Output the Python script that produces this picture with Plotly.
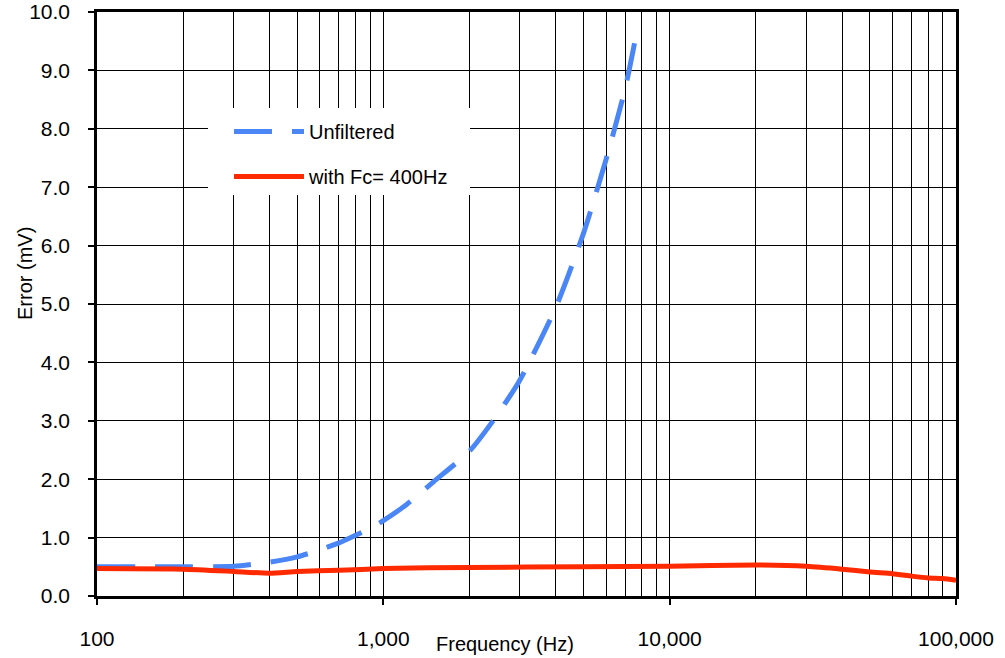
import plotly.graph_objects as go

# ---- data ----
freq_unf = [100, 200, 300, 400, 500, 600, 700, 800, 900, 1000, 1200, 1500,
            2000, 2500, 3000, 4000, 5000, 6000, 7000, 7730]
err_unf = [0.50, 0.50, 0.51, 0.58, 0.67, 0.79, 0.91, 1.04, 1.16, 1.29, 1.56, 1.96,
           2.48, 3.10, 3.70, 4.94, 6.21, 7.48, 8.70, 9.74]

freq_flt = [100, 200, 300, 400, 500, 700, 1000, 2000, 5000, 10000, 20000, 30000,
            40000, 50000, 60000, 70000, 80000, 90000, 100000]
err_flt = [0.47, 0.46, 0.42, 0.39, 0.42, 0.44, 0.47, 0.49, 0.50, 0.51, 0.53, 0.51,
           0.46, 0.41, 0.38, 0.34, 0.31, 0.30, 0.27]

x_tick_vals = [100, 1000, 10000, 100000]
x_tick_text = ["100", "1,000", "10,000", "100,000"]
x_minor_vals = [m * d for d in (100, 1000, 10000) for m in range(2, 10)]
y_tick_vals = list(range(0, 11))
y_tick_text = [f"{v:.1f}" for v in y_tick_vals]

FONT = "Liberation Sans, Arial, sans-serif"

fig = go.Figure()
fig.add_trace(go.Scatter(
    x=freq_unf, y=err_unf, mode="lines", name="Unfiltered",
    line=dict(color="#4a86f5", width=5, dash="38px,20px", shape="spline", smoothing=0.6),
    legendgroup="a",
))
fig.add_trace(go.Scatter(
    x=freq_flt, y=err_flt, mode="lines", name="with Fc= 400Hz",
    line=dict(color="#ff2a00", width=5, shape="spline", smoothing=0.5),
    legendgroup="b",
))

W, H = 1005, 658
L, R, T, B = 97, 49, 12, 62
pw, ph = W - L - R, H - T - B

fig.update_layout(
    width=W, height=H,
    margin=dict(l=L, r=R, t=T, b=B, autoexpand=False),
    paper_bgcolor="white", plot_bgcolor="white",
    font=dict(family=FONT, size=20, color="black"),
    showlegend=True,
    legend=dict(
        x=(229 - L) / pw, y=(596 - 112) / ph, xanchor="left", yanchor="top",
        bgcolor="rgba(0,0,0,0)", borderwidth=0,
        font=dict(family=FONT, size=20, color="black"),
        itemwidth=70, traceorder="grouped", tracegroupgap=16,
    ),
    shapes=[dict(
        type="rect", xref="paper", yref="paper", layer="above",
        x0=(208 - L) / pw, x1=(470 - L) / pw,
        y0=(596 - 195) / ph, y1=(596 - 108) / ph,
        fillcolor="white", line=dict(width=0),
    )],
    annotations=[
        dict(text="Frequency (Hz)", xref="paper", yref="paper",
             x=(505 - L) / pw, y=0, xanchor="center", yanchor="middle",
             yshift=-48, showarrow=False, font=dict(family=FONT, size=20)),
        dict(text="Error (mV)", xref="paper", yref="paper",
             x=0, xshift=-72, y=(596 - 274) / ph, xanchor="center", yanchor="middle",
             textangle=-90, showarrow=False, font=dict(family=FONT, size=20)),
    ],
)

fig.update_xaxes(
    type="log", range=[2, 5], automargin=False,
    tickmode="array", tickvals=x_tick_vals, ticktext=x_tick_text,
    ticks="outside", ticklen=6, tickwidth=1.5, tickcolor="black",
    ticklabelstandoff=16, tickfont=dict(size=21),
    showgrid=True, gridcolor="black", gridwidth=1,
    minor=dict(tickvals=x_minor_vals, showgrid=True, gridcolor="black", gridwidth=1, ticks=""),
    showline=True, linecolor="black", linewidth=2.5, mirror=True,
    zeroline=False,
)
fig.update_yaxes(
    range=[0, 10], automargin=False,
    tickmode="array", tickvals=y_tick_vals, ticktext=y_tick_text,
    ticks="outside", ticklen=6, tickwidth=1.5, tickcolor="black",
    ticklabelstandoff=14, tickfont=dict(size=21),
    showgrid=True, gridcolor="black", gridwidth=1,
    showline=True, linecolor="black", linewidth=2.5, mirror=True,
    zeroline=False,
)

fig.write_html(
    "out.html",
    config={"displayModeBar": False},
    post_script="document.body.style.margin='0';document.body.style.padding='0';"
                "document.documentElement.style.overflow='hidden';",
)
